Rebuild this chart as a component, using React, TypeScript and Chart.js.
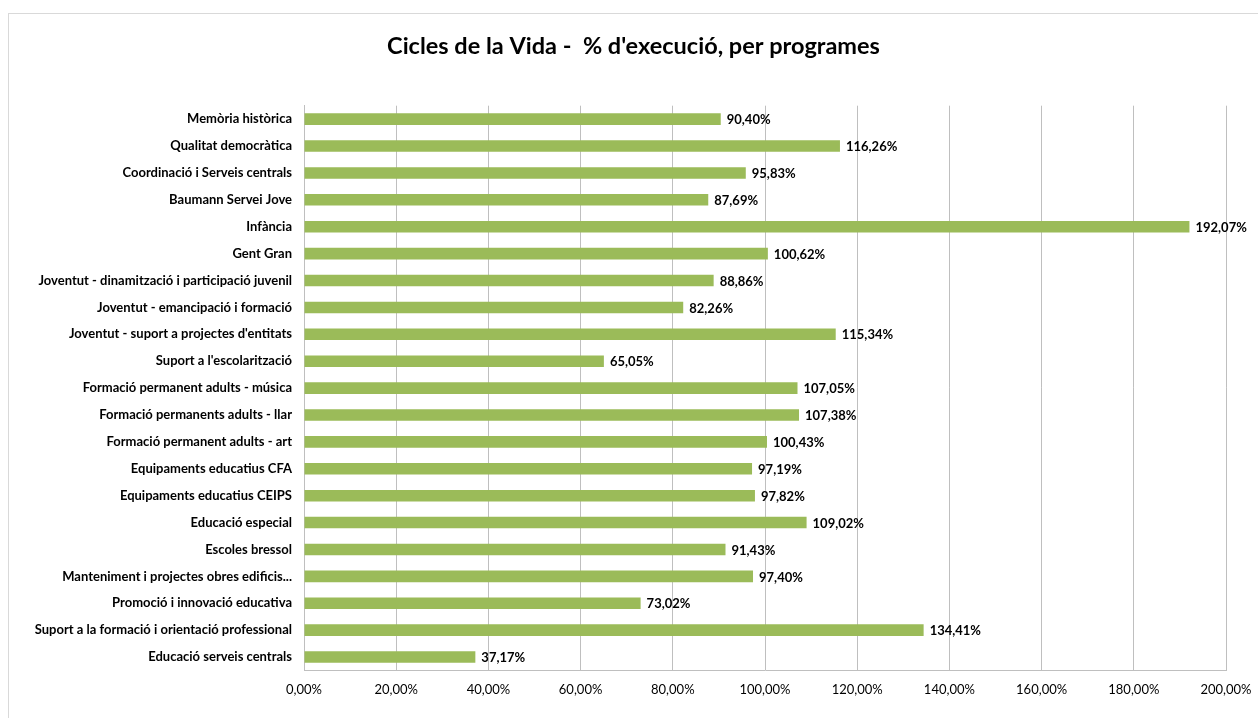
import React, { useEffect, useRef } from "react";
import { Chart, registerables } from "chart.js";

Chart.register(...registerables);

const TITLE = "Cicles de la Vida -  % d'execució, per programes";

const categories = [
  "Memòria històrica",
  "Qualitat democràtica",
  "Coordinació i Serveis centrals",
  "Baumann Servei Jove",
  "Infància",
  "Gent Gran",
  "Joventut - dinamització i participació juvenil",
  "Joventut - emancipació i formació",
  "Joventut - suport a projectes d'entitats",
  "Suport a l'escolarització",
  "Formació permanent adults - música",
  "Formació permanents adults - llar",
  "Formació permanent adults - art",
  "Equipaments educatius CFA",
  "Equipaments educatius CEIPS",
  "Educació especial",
  "Escoles bressol",
  "Manteniment i projectes obres edificis...",
  "Promoció i innovació educativa",
  "Suport a la formació i orientació professional",
  "Educació serveis centrals",
];

const executionPct = [
  90.4, 116.26, 95.83, 87.69, 192.07, 100.62, 88.86, 82.26, 115.34, 65.05,
  107.05, 107.38, 100.43, 97.19, 97.82, 109.02, 91.43, 97.4, 73.02, 134.41,
  37.17,
];

const X_MIN = 0;
const X_MAX = 200;
const X_STEP = 20;

const FONT = "Lato, 'Noto Sans', sans-serif";
const fmt = (v: number) => v.toFixed(2).replace(".", ",") + "%";

const dataLabelPlugin = {
  id: "dataLabels",
  afterDatasetsDraw(chart: any) {
    const ctx = chart.ctx;
    const meta = chart.getDatasetMeta(0);
    ctx.save();
    ctx.font = `bold 13px ${FONT}`;
    ctx.fillStyle = "#000";
    ctx.textAlign = "left";
    ctx.textBaseline = "middle";
    meta.data.forEach((el: any, i: number) => {
      ctx.fillText(fmt(executionPct[i]), el.x + 6, el.y + 1);
    });
    ctx.restore();
  },
};

export default function App() {
  const ref = useRef<HTMLCanvasElement | null>(null);
  useEffect(() => {
    if (!ref.current) return;
    const chart = new Chart(ref.current, {
      type: "bar",
      data: {
        labels: categories,
        datasets: [
          {
            data: executionPct,
            backgroundColor: "#9BBB59",
            borderWidth: 0,
            categoryPercentage: 1,
            barPercentage: 0.43,
          },
        ],
      },
      options: {
        indexAxis: "y",
        responsive: false,
        animation: false,
        layout: { padding: { left: 0, right: 0, top: 0, bottom: 0 } },
        plugins: {
          legend: { display: false },
          tooltip: { enabled: false },
          title: {
            display: true,
            text: TITLE,
            color: "#000",
            font: { family: FONT, size: 23.5, weight: "bold" },
            padding: { top: 18, bottom: 45.5 },
          },
        },
        scales: {
          x: {
            min: X_MIN,
            max: X_MAX,
            ticks: {
              stepSize: X_STEP,
              color: "#000",
              font: { family: FONT, size: 13 },
              padding: 12,
              maxRotation: 0,
              callback: (v: any) => fmt(Number(v)),
            },
            grid: { color: "#bfbfbf", drawTicks: false, lineWidth: 1 },
            border: { color: "#bfbfbf" },
            afterFit: (s: any) => {
              s.height = 47.5;
              s.paddingLeft = 0;
              s.paddingRight = 32;
            },
          },
          y: {
            ticks: {
              color: "#000",
              font: { family: FONT, size: 13, weight: "bold" },
              padding: 12,
              autoSkip: false,
            },
            grid: { display: false, drawTicks: false },
            border: { color: "#bfbfbf" },
            afterFit: (s: any) => {
              s.width = 295;
              s.paddingTop = 0;
              s.paddingBottom = 0;
            },
          },
        },
      },
      plugins: [dataLabelPlugin],
    });
    return () => chart.destroy();
  }, []);

  return (
    <div style={{ position: "fixed", inset: 0, overflow: "hidden", background: "#fff" }}>
      <div
        style={{
          position: "absolute",
          left: 8,
          top: 13,
          width: 1260,
          height: 720,
          border: "1px solid #d9d9d9",
          boxSizing: "border-box",
        }}
      >
        <canvas ref={ref} width={1249} height={704} style={{ display: "block" }} />
      </div>
    </div>
  );
}
